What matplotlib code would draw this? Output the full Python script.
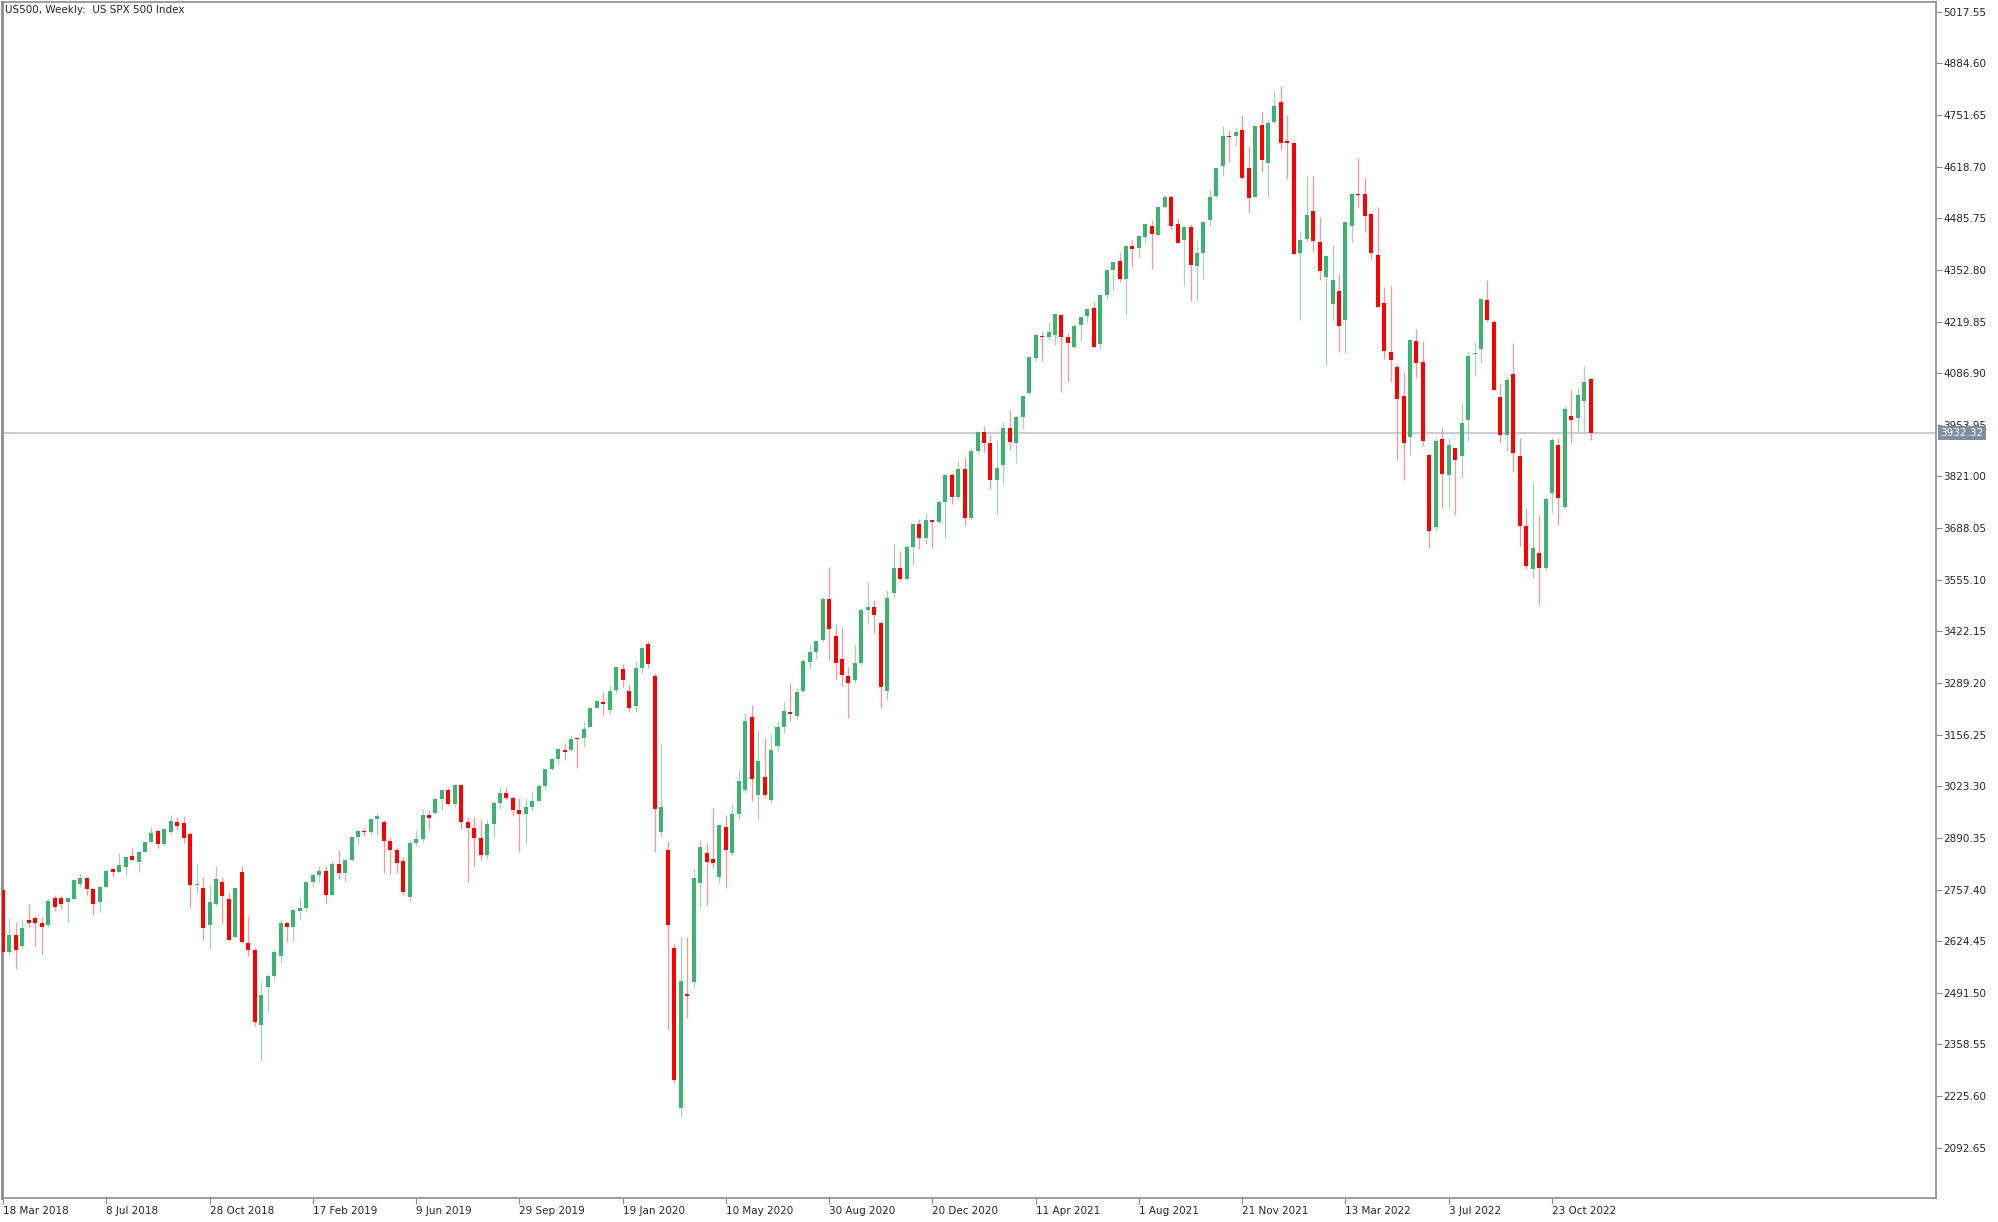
import numpy as np
import matplotlib.pyplot as plt
from matplotlib.transforms import blended_transform_factory

# weekly bars, first bar = week of 18 Mar 2018, last = week of 4 Dec 2022
opens = [
    2756, 2597, 2639, 2613, 2679, 2683, 2672, 2666, 2736, 2735, 2726, 2733, 2772, 2786, 2758, 2724,
    2765, 2809, 2803, 2816, 2844, 2829, 2855, 2879, 2909, 2875, 2906, 2930, 2928, 2900, 2768, 2762,
    2666, 2720, 2778, 2732, 2636, 2803, 2619, 2602, 2409, 2506, 2535, 2586, 2672, 2660, 2703, 2709,
    2778, 2795, 2804, 2743, 2822, 2801, 2834, 2893, 2907, 2905, 2940, 2930, 2881, 2860, 2831, 2739,
    2876, 2887, 2950, 2955, 2990, 3014, 2977, 3027, 2930, 2915, 2889, 2847, 2926, 2979, 3007, 2992,
    2962, 2952, 2970, 2986, 3023, 3067, 3093, 3116, 3117, 3148, 3148, 3175, 3226, 3240, 3220, 3271,
    3324, 3268, 3231, 3329, 3389, 3307, 2905, 2859, 2606, 2194, 2488, 2518, 2773, 2852, 2835, 2790,
    2919, 2852, 2952, 3014, 3202, 3001, 3048, 2988, 3127, 3177, 3215, 3205, 3269, 3342, 3368, 3400,
    3505, 3410, 3351, 3308, 3297, 3340, 3477, 3484, 3444, 3269, 3520, 3585, 3558, 3638, 3699, 3663,
    3709, 3703, 3756, 3825, 3768, 3841, 3714, 3887, 3935, 3907, 3811, 3850, 3945, 3906, 3975, 4035,
    4125, 4182, 4181, 4185, 4237, 4181, 4153, 4211, 4234, 4255, 4161, 4288, 4352, 4376, 4329, 4414,
    4410, 4438, 4467, 4443, 4514, 4540, 4471, 4430, 4464, 4363, 4397, 4481, 4543, 4620, 4697, 4697,
    4713, 4614, 4541, 4726, 4629, 4734, 4786, 4685, 4680, 4397, 4431, 4504, 4424, 4335, 4265, 4299,
    4225, 4466, 4547, 4548, 4497, 4391, 4267, 4142, 4103, 4028, 3923, 4170, 4116, 3876, 3692, 3917,
    3825, 3895, 3874, 3965, 4136, 4148, 4275, 4219, 4026, 3928, 4085, 3874, 3693, 3582, 3625, 3584,
    3778, 3902, 3741, 3977, 3972, 4016, 4072,
]
highs = [
    2761, 2683, 2675, 2681, 2720, 2689, 2686, 2732, 2743, 2742, 2736, 2782, 2801, 2790, 2762, 2768,
    2808, 2816, 2851, 2842, 2863, 2857, 2879, 2919, 2912, 2914, 2949, 2945, 2947, 2905, 2825, 2790,
    2768, 2818, 2790, 2752, 2762, 2818, 2689, 2610, 2520, 2540, 2603, 2678, 2677, 2708, 2738, 2778,
    2800, 2817, 2818, 2830, 2860, 2836, 2893, 2912, 2916, 2940, 2955, 2937, 2892, 2866, 2842, 2885,
    2911, 2964, 2962, 2996, 3014, 3018, 3028, 3029, 2945, 2943, 2939, 2940, 2985, 3021, 3022, 2999,
    2993, 2993, 3008, 3028, 3068, 3097, 3122, 3134, 3154, 3150, 3188, 3228, 3247, 3267, 3282, 3331,
    3338, 3285, 3347, 3385, 3398, 3315, 3135, 2883, 2617, 2634, 2636, 2812, 2885, 2878, 2966, 2927,
    2948, 2977, 3067, 3213, 3232, 3168, 3147, 3157, 3190, 3240, 3288, 3275, 3352, 3385, 3400, 3510,
    3588, 3440, 3430, 3330, 3390, 3482, 3550, 3502, 3450, 3529, 3646, 3628, 3645, 3699, 3712, 3726,
    3710, 3760, 3826, 3830, 3861, 3870, 3894, 3937, 3950, 3929, 3914, 3960, 3992, 3978, 4028, 4129,
    4191, 4194, 4218, 4238, 4240, 4190, 4213, 4234, 4251, 4271, 4288, 4356, 4374, 4395, 4415, 4430,
    4441, 4470, 4480, 4514, 4546, 4545, 4486, 4466, 4470, 4429, 4477, 4559, 4614, 4723, 4714, 4718,
    4752, 4672, 4722, 4758, 4740, 4814, 4825, 4752, 4685, 4453, 4595, 4595, 4490, 4390, 4416, 4342,
    4477, 4548, 4640, 4593, 4500, 4515, 4308, 4310, 4110, 4090, 4172, 4200, 4169, 3880, 3920, 3949,
    3920, 3895, 4011, 4141, 4167, 4281, 4327, 4225, 4062, 4076, 4164, 3919, 3739, 3805, 3722, 3768,
    3920, 3919, 4002, 4044, 4045, 4106, 4072,
]
lows = [
    2585, 2591, 2552, 2605, 2662, 2612, 2591, 2662, 2701, 2707, 2675, 2733, 2764, 2742, 2694, 2699,
    2765, 2790, 2802, 2791, 2831, 2803, 2853, 2876, 2864, 2870, 2900, 2910, 2876, 2712, 2746, 2627,
    2603, 2716, 2672, 2624, 2632, 2620, 2585, 2405, 2317, 2439, 2524, 2569, 2623, 2623, 2681, 2700,
    2764, 2775, 2722, 2740, 2785, 2780, 2830, 2873, 2896, 2897, 2897, 2800, 2797, 2800, 2744, 2728,
    2870, 2880, 2910, 2952, 2962, 2975, 2970, 2914, 2778, 2817, 2834, 2837, 2890, 2964, 2988, 2946,
    2855, 2874, 2959, 2985, 3015, 3065, 3076, 3091, 3113, 3069, 3124, 3175, 3224, 3207, 3210, 3263,
    3280, 3214, 3214, 3315, 3328, 2855, 2893, 2396, 2258, 2171, 2426, 2507, 2713, 2718, 2812, 2773,
    2760, 2846, 2940, 3005, 2984, 2936, 2992, 2980, 3115, 3160, 3190, 3195, 3265, 3325, 3350, 3395,
    3348, 3297, 3281, 3198, 3290, 3335, 3441, 3419, 3226, 3245, 3511, 3551, 3555, 3594, 3633, 3647,
    3636, 3700, 3663, 3750, 3762, 3694, 3710, 3880, 3885, 3789, 3723, 3803, 3889, 3855, 3944, 4030,
    4118, 4118, 4171, 4160, 4039, 4065, 4150, 4168, 4218, 4153, 4150, 4279, 4300, 4321, 4237, 4360,
    4385, 4422, 4355, 4440, 4513, 4458, 4423, 4310, 4273, 4273, 4329, 4465, 4537, 4595, 4630, 4672,
    4586, 4498, 4541, 4606, 4537, 4730, 4662, 4586, 4394, 4224, 4425, 4401, 4327, 4105, 4220, 4142,
    4140, 4424, 4511, 4450, 4382, 4258, 4124, 4065, 3863, 3812, 3876, 4074, 3900, 3636, 3680, 3739,
    3739, 3722, 3818, 3911, 4079, 4112, 4218, 4043, 3907, 3886, 3833, 3642, 3582, 3559, 3491, 3580,
    3728, 3696, 3738, 3906, 3936, 3936, 3915,
]
closes = [
    2596, 2639, 2602, 2657, 2670, 2670, 2662, 2729, 2713, 2720, 2736, 2782, 2786, 2758, 2720, 2765,
    2806, 2803, 2821, 2842, 2833, 2855, 2879, 2902, 2875, 2912, 2935, 2921, 2891, 2769, 2771, 2659,
    2724, 2784, 2741, 2627, 2760, 2623, 2602, 2417, 2486, 2535, 2597, 2672, 2662, 2705, 2709, 2778,
    2795, 2804, 2743, 2822, 2801, 2834, 2893, 2907, 2905, 2940, 2946, 2881, 2860, 2826, 2752, 2876,
    2887, 2950, 2942, 2990, 3014, 2977, 3027, 2932, 2915, 2889, 2847, 2926, 2979, 3007, 2992, 2962,
    2952, 2970, 2986, 3023, 3067, 3093, 3120, 3111, 3144, 3146, 3170, 3226, 3243, 3236, 3268, 3331,
    3297, 3224, 3329, 3380, 3338, 2964, 2971, 2666, 2267, 2522, 2482, 2788, 2866, 2829, 2825, 2924,
    2859, 2952, 3037, 3192, 3041, 3087, 3001, 3117, 3177, 3218, 3209, 3267, 3347, 3370, 3398, 3505,
    3427, 3340, 3310, 3288, 3340, 3477, 3484, 3465, 3280, 3509, 3585, 3558, 3638, 3699, 3663, 3709,
    3703, 3756, 3825, 3768, 3841, 3714, 3887, 3935, 3907, 3811, 3842, 3945, 3910, 3975, 4028, 4129,
    4185, 4180, 4194, 4238, 4181, 4164, 4208, 4232, 4251, 4153, 4288, 4352, 4374, 4329, 4413, 4406,
    4441, 4470, 4445, 4514, 4540, 4466, 4423, 4462, 4365, 4395, 4477, 4541, 4614, 4697, 4694, 4709,
    4589, 4537, 4722, 4636, 4730, 4776, 4679, 4679, 4394, 4430, 4494, 4427, 4350, 4388, 4327, 4208,
    4477, 4548, 4545, 4492, 4395, 4258, 4145, 4121, 4020, 3906, 4172, 4114, 3912, 3681, 3911, 3826,
    3902, 3862, 3958, 4131, 4140, 4278, 4225, 4043, 3928, 4069, 3882, 3693, 3590, 3636, 3584, 3762,
    3915, 3765, 3994, 3966, 4031, 4065, 3932.32,
]

date_labels = ["18 Mar 2018", "8 Jul 2018", "28 Oct 2018", "17 Feb 2019", "9 Jun 2019",
               "29 Sep 2019", "19 Jan 2020", "10 May 2020", "30 Aug 2020", "20 Dec 2020",
               "11 Apr 2021", "1 Aug 2021", "21 Nov 2021", "13 Mar 2022", "3 Jul 2022",
               "23 Oct 2022"]
label_bars = [0, 16, 32, 48, 64, 80, 96, 112, 128, 144, 160, 176, 192, 208, 224, 240]
price_ticks = [2092.65, 2225.60, 2358.55, 2491.50, 2624.45, 2757.40, 2890.35, 3023.30,
               3156.25, 3289.20, 3422.15, 3555.10, 3688.05, 3821.00, 3953.95, 4086.90,
               4219.85, 4352.80, 4485.75, 4618.70, 4751.65, 4884.60, 5017.55]
last_price = 3932.32

opens = np.array(opens, dtype=float)
highs = np.array(highs, dtype=float)
lows = np.array(lows, dtype=float)
closes = np.array(closes, dtype=float)
x = np.arange(len(closes))

plt.rcParams['font.family'] = 'DejaVu Sans'
fs = 7.5
txt = '#262626'
frame = '#8c8c8c'

fig = plt.figure(figsize=(19.99, 12.22), dpi=100)
W, H = 1999, 1222
ax = fig.add_axes([2.5 / W, 24 / H, (1936 - 2.5) / W, (1198 - 2) / H])

up = closes >= opens
body_col = np.where(up, '#3cb371', '#ff0000')
wick_col = np.where(up, '#9ed8b6', '#ff9494')

ax.vlines(x, lows, highs, colors=wick_col, linewidth=0.9, zorder=2)
bottom = np.minimum(opens, closes)
height = np.maximum(np.abs(closes - opens), 2.6)
ax.bar(x, height, 0.62, bottom=bottom, color=body_col, linewidth=0, zorder=3)

ax.axhline(last_price, color='#c3c9d3', linewidth=1.3, zorder=1)

ax.set_xlim(-0.08, 299.5)
ax.set_ylim(1963.1, 5042.5)

ax.yaxis.tick_right()
ax.set_yticks(price_ticks)
ax.set_yticklabels(['%.2f' % p for p in price_ticks])
ax.set_xticks(label_bars)
ax.set_xticklabels(date_labels, ha='left')
ax.tick_params(axis='y', direction='out', length=4, width=0.8, color=frame,
               labelsize=fs, labelcolor=txt, pad=1)
ax.tick_params(axis='x', direction='out', length=4, width=0.8, color=frame,
               labelsize=fs, labelcolor=txt, pad=2)
for s in ax.spines.values():
    s.set_color(frame)
    s.set_linewidth(1.2)
ax.spines['left'].set_linewidth(2)

# current price tag on the price scale
tr = blended_transform_factory(ax.transAxes, ax.transData)
ax.text(1.0022, last_price, '%.2f' % last_price, transform=tr, ha='left', va='center',
        fontsize=fs, color='white', clip_on=False, zorder=10,
        bbox=dict(facecolor='#7d8fa3', edgecolor='none', pad=1.6))

ax.text(0.0015, 0.9975, 'US500, Weekly:  US SPX 500 Index', transform=ax.transAxes,
        ha='left', va='top', fontsize=fs, color=txt)

fig.savefig('out.png', dpi=100, facecolor='white')
